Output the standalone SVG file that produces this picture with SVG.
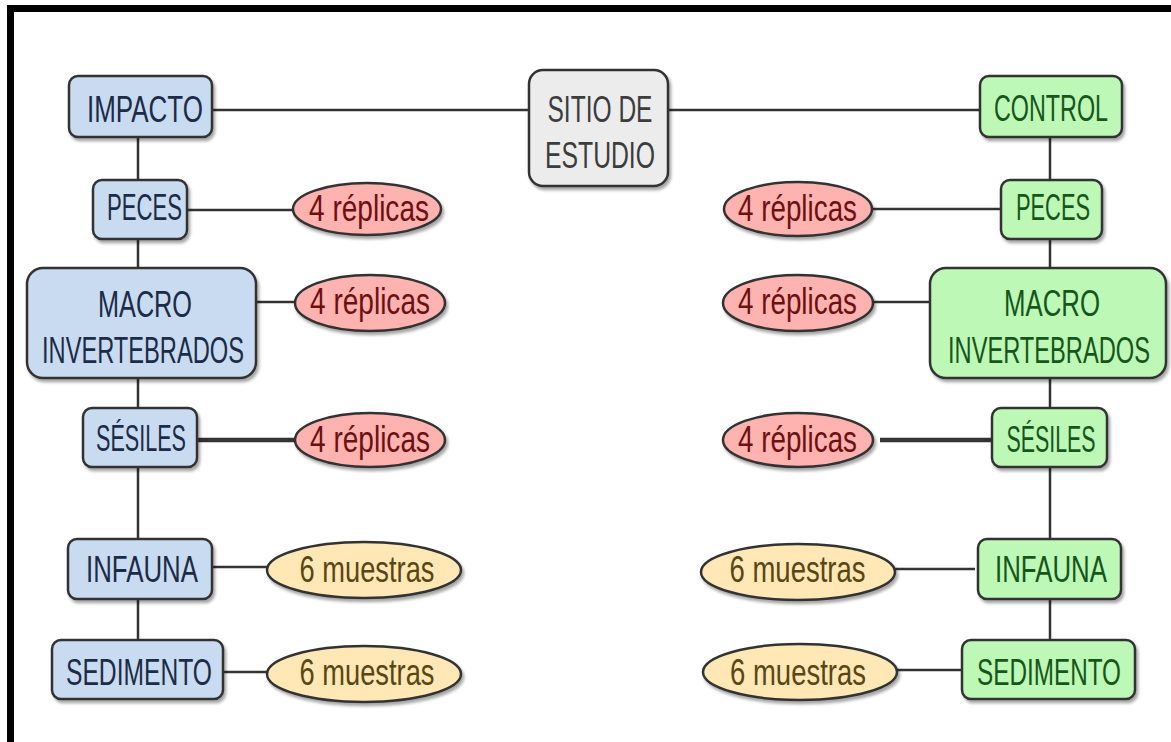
<svg xmlns="http://www.w3.org/2000/svg" width="1171" height="742" viewBox="0 0 1171 742">
  <defs>
    <filter id="shadow" x="-10%" y="-10%" width="125%" height="130%">
      <feDropShadow dx="2" dy="3" stdDeviation="1.5" flood-color="#000" flood-opacity="0.35"/>
    </filter>
    <style>
      .frame { fill: none; stroke: #000; stroke-width: 7; }
      .link { stroke: #333; stroke-width: 2.5; fill: none; }
      .link.thick { stroke-width: 4.5; }
      .box { stroke: #333; stroke-width: 2.5; filter: url(#shadow); }
      .impact { fill: #c9dbf1; }
      .control { fill: #bdf8b6; }
      .site { fill: #ececec; }
      .rep { fill: #ffb3b0; stroke: #333; stroke-width: 2.5; filter: url(#shadow); }
      .smp { fill: #ffe8b5; stroke: #333; stroke-width: 2.5; filter: url(#shadow); }
      text { font-family: "Liberation Sans Narrow", "Liberation Sans", Arial, sans-serif; font-size: 37px; text-anchor: middle; }
      .t-impact { fill: #1c2b46; }
      .t-control { fill: #17561a; }
      .t-site { fill: #3c3c3c; }
      .t-rep { fill: #6e1010; }
      .t-smp { fill: #5a4612; }
    </style>
  </defs>

  <rect width="1171" height="742" fill="#fff"/>
  <!-- outer frame: left and top edges only -->
  <path class="frame" d="M10.5,742 V8.5 H1171"/>

  <g id="connectors">
    <line class="link" x1="212" y1="110" x2="529" y2="110"/>
    <line class="link" x1="668" y1="110" x2="980" y2="110"/>
    <line class="link" x1="138" y1="137" x2="138" y2="640"/>
    <line class="link" x1="1050" y1="137" x2="1050" y2="640"/>
    <line class="link" x1="187" y1="210" x2="293" y2="210"/>
    <line class="link" x1="256" y1="302" x2="295" y2="302"/>
    <line class="link thick" x1="197" y1="440" x2="295" y2="440"/>
    <line class="link" x1="212" y1="567" x2="267" y2="567"/>
    <line class="link" x1="223" y1="672" x2="267" y2="672"/>
    <line class="link" x1="872" y1="209" x2="1001" y2="209"/>
    <line class="link" x1="873" y1="302" x2="930" y2="302"/>
    <line class="link thick" x1="880" y1="440" x2="992" y2="440"/>
    <line class="link" x1="895" y1="569" x2="975" y2="569"/>
    <line class="link" x1="897" y1="670" x2="962" y2="670"/>
  </g>

  <g id="sitio">
    <rect class="box site" x="529" y="70" width="139" height="116" rx="14"/>
    <text class="t-site" x="600" y="122" textLength="105" lengthAdjust="spacingAndGlyphs">SITIO DE</text>
    <text class="t-site" x="600" y="168" textLength="110" lengthAdjust="spacingAndGlyphs">ESTUDIO</text>
  </g>

  <!-- impact branch -->
  <g id="impacto">
    <rect class="box impact" x="69" y="76" width="143" height="61" rx="9"/>
    <text class="t-impact" x="145" y="122" textLength="116" lengthAdjust="spacingAndGlyphs">IMPACTO</text>
  </g>
  <g id="impacto-peces">
    <rect class="box impact" x="93" y="180" width="94" height="59" rx="9"/>
    <text class="t-impact" x="144.5" y="220" textLength="75" lengthAdjust="spacingAndGlyphs">PECES</text>
  </g>
  <g id="impacto-macro">
    <rect class="box impact" x="27" y="268" width="229" height="110" rx="16"/>
    <text class="t-impact" x="145" y="317" textLength="94" lengthAdjust="spacingAndGlyphs">MACRO</text>
    <text class="t-impact" x="143" y="363" textLength="202" lengthAdjust="spacingAndGlyphs">INVERTEBRADOS</text>
  </g>
  <g id="impacto-sesiles">
    <rect class="box impact" x="83" y="408" width="114" height="59" rx="9"/>
    <text class="t-impact" x="141" y="451" textLength="90" lengthAdjust="spacingAndGlyphs">SÉSILES</text>
  </g>
  <g id="impacto-infauna">
    <rect class="box impact" x="68" y="539" width="144" height="60" rx="9"/>
    <text class="t-impact" x="142" y="582" textLength="112" lengthAdjust="spacingAndGlyphs">INFAUNA</text>
  </g>
  <g id="impacto-sedimento">
    <rect class="box impact" x="52" y="640" width="171" height="59" rx="9"/>
    <text class="t-impact" x="139" y="685" textLength="146" lengthAdjust="spacingAndGlyphs">SEDIMENTO</text>
  </g>

  <g id="impacto-peces-rep">
    <ellipse class="rep" cx="367" cy="209" rx="74" ry="26"/>
    <text class="t-rep" x="369" y="221" textLength="120" lengthAdjust="spacingAndGlyphs">4 réplicas</text>
  </g>
  <g id="impacto-macro-rep">
    <ellipse class="rep" cx="370" cy="303" rx="75" ry="28"/>
    <text class="t-rep" x="370" y="314" textLength="120" lengthAdjust="spacingAndGlyphs">4 réplicas</text>
  </g>
  <g id="impacto-sesiles-rep">
    <ellipse class="rep" cx="370" cy="440" rx="75" ry="27"/>
    <text class="t-rep" x="370" y="452" textLength="120" lengthAdjust="spacingAndGlyphs">4 réplicas</text>
  </g>
  <g id="impacto-infauna-smp">
    <ellipse class="smp" cx="364" cy="570" rx="97" ry="28"/>
    <text class="t-smp" x="367" y="582" textLength="135" lengthAdjust="spacingAndGlyphs">6 muestras</text>
  </g>
  <g id="impacto-sedimento-smp">
    <ellipse class="smp" cx="364" cy="674" rx="97" ry="28"/>
    <text class="t-smp" x="367" y="685" textLength="135" lengthAdjust="spacingAndGlyphs">6 muestras</text>
  </g>

  <!-- control branch -->
  <g id="control">
    <rect class="box control" x="980" y="76" width="142" height="61" rx="9"/>
    <text class="t-control" x="1051" y="121" textLength="114" lengthAdjust="spacingAndGlyphs">CONTROL</text>
  </g>
  <g id="control-peces">
    <rect class="box control" x="1001" y="180" width="101" height="59" rx="9"/>
    <text class="t-control" x="1053" y="220" textLength="74" lengthAdjust="spacingAndGlyphs">PECES</text>
  </g>
  <g id="control-macro">
    <rect class="box control" x="930" y="268" width="236" height="110" rx="16"/>
    <text class="t-control" x="1052" y="316" textLength="96" lengthAdjust="spacingAndGlyphs">MACRO</text>
    <text class="t-control" x="1049" y="363" textLength="202" lengthAdjust="spacingAndGlyphs">INVERTEBRADOS</text>
  </g>
  <g id="control-sesiles">
    <rect class="box control" x="992" y="408" width="115" height="59" rx="9"/>
    <text class="t-control" x="1051" y="452" textLength="89" lengthAdjust="spacingAndGlyphs">SÉSILES</text>
  </g>
  <g id="control-infauna">
    <rect class="box control" x="978" y="539" width="143" height="60" rx="9"/>
    <text class="t-control" x="1051" y="582" textLength="112" lengthAdjust="spacingAndGlyphs">INFAUNA</text>
  </g>
  <g id="control-sedimento">
    <rect class="box control" x="962" y="640" width="173" height="59" rx="9"/>
    <text class="t-control" x="1049" y="685" textLength="144" lengthAdjust="spacingAndGlyphs">SEDIMENTO</text>
  </g>

  <g id="control-peces-rep">
    <ellipse class="rep" cx="798" cy="209" rx="74" ry="27"/>
    <text class="t-rep" x="797.5" y="221" textLength="119" lengthAdjust="spacingAndGlyphs">4 réplicas</text>
  </g>
  <g id="control-macro-rep">
    <ellipse class="rep" cx="798" cy="303" rx="75" ry="28"/>
    <text class="t-rep" x="797.5" y="314" textLength="119" lengthAdjust="spacingAndGlyphs">4 réplicas</text>
  </g>
  <g id="control-sesiles-rep">
    <ellipse class="rep" cx="798" cy="440" rx="75" ry="27"/>
    <text class="t-rep" x="797.5" y="452" textLength="119" lengthAdjust="spacingAndGlyphs">4 réplicas</text>
  </g>
  <g id="control-infauna-smp">
    <ellipse class="smp" cx="798" cy="572" rx="97" ry="28"/>
    <text class="t-smp" x="797.5" y="582" textLength="136" lengthAdjust="spacingAndGlyphs">6 muestras</text>
  </g>
  <g id="control-sedimento-smp">
    <ellipse class="smp" cx="800" cy="672" rx="97" ry="28"/>
    <text class="t-smp" x="798" y="685" textLength="136" lengthAdjust="spacingAndGlyphs">6 muestras</text>
  </g>
</svg>
